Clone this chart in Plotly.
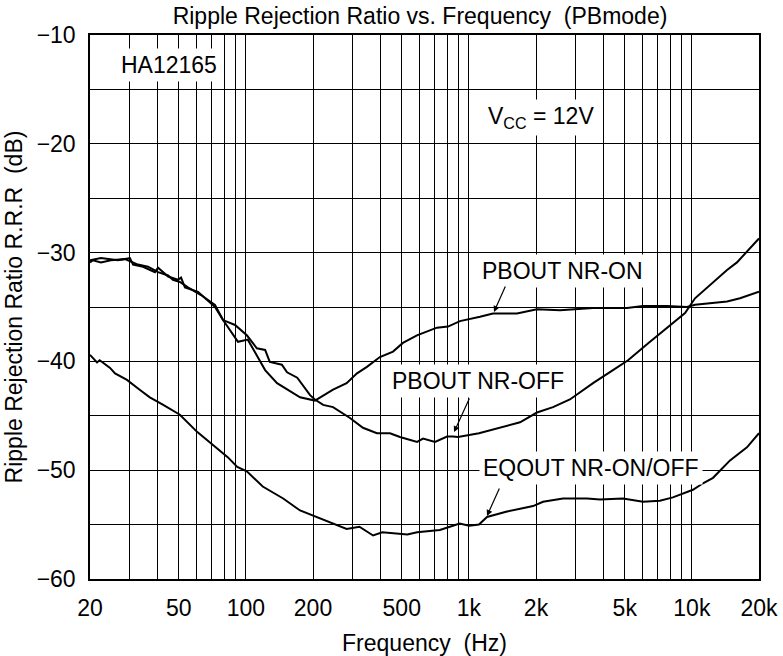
import math
import plotly.graph_objects as go

# ---- data ----
f_on = [20, 20.6, 22.4, 24.8, 28.7, 32.8, 36.4, 40.4, 44.8, 47.1, 50.6, 55, 62.9, 72.7, 79,
        92.2, 102, 113, 122, 138, 153, 175, 204, 246, 283, 315, 349, 399, 457, 506, 585, 719,
        806, 912, 1122, 1282, 1644, 2020, 2564, 3604, 5118, 6040, 7730, 9508, 10330, 14380,
        16440, 20000]
db_on = [-30.9, -30.7, -30.9, -30.7, -30.6, -31.1, -31.3, -31.8, -32.1, -32.5, -32.7, -33.2,
         -33.9, -34.8, -36.2, -38.2, -38.0, -39.6, -40.8, -42.0, -42.6, -43.3, -43.6, -42.6,
         -42.0, -41.1, -40.5, -39.6, -39.1, -38.3, -37.6, -36.9, -36.8, -36.3, -35.9, -35.6,
         -35.6, -35.2, -35.3, -35.1, -35.1, -34.9, -34.9, -35.0, -34.8, -34.5, -34.2, -33.6]

f_off = [20, 22.4, 26.7, 30.2, 31.2, 34.6, 39.1, 40.4, 44.8, 49.6, 51.2, 53.3, 61, 65.6, 72.7,
         79, 89.4, 101, 112, 122, 128, 145, 153, 170, 194, 204, 222, 246, 293, 335, 387, 443,
         491, 586, 623, 705, 798, 848, 894, 1110, 1379, 1696, 2020, 2384, 2838, 3604, 4428,
         5173, 6390, 8140, 9320, 10330, 12440, 14380, 15930, 17660, 19800, 20000]
db_off = [-30.7, -30.5, -30.7, -30.5, -31.1, -31.3, -31.8, -31.4, -32.2, -32.5, -32.3, -33.2,
          -33.6, -34.2, -35.0, -36.2, -36.65, -37.6, -38.8, -38.95, -40.05, -40.3, -41.0, -41.5,
          -43.1, -43.5, -44.0, -44.2, -45.2, -46.1, -46.6, -46.6, -46.95, -47.4, -47.1, -47.4,
          -46.9, -46.9, -46.95, -46.6, -46.1, -45.6, -44.7, -44.2, -43.5, -42.0, -40.8, -39.9,
          -38.3, -36.5, -35.55, -34.2, -32.7, -31.6, -30.9, -29.9, -28.8, -28.7]

f_eq = [20, 21.5, 22.1, 24.6, 25.9, 29.3, 33.4, 37.1, 42.6, 50.6, 60.6, 71.1, 82.9, 91.5, 101,
        119, 147, 175, 208, 246, 283, 323, 372, 409, 495, 530, 586, 741, 848, 909, 1003, 1110,
        1206, 1482, 1940, 2150, 2643, 3389, 3874, 4910, 6040, 7190, 8220, 10110, 11220, 12440,
        14830, 17660, 20000]
db_eq = [-39.4, -40.1, -39.9, -40.6, -41.1, -41.7, -42.6, -43.3, -44.0, -44.9, -46.5, -47.7,
         -48.8, -49.7, -50.1, -51.5, -52.6, -53.7, -54.3, -54.9, -55.4, -55.2, -56.0, -55.7,
         -55.8, -55.9, -55.7, -55.5, -55.1, -54.9, -55.1, -55.0, -54.3, -53.8, -53.3, -52.9,
         -52.6, -52.6, -52.7, -52.6, -52.9, -52.8, -52.5, -51.8, -51.2, -50.7, -49.1, -47.9,
         -46.6]

x_tickvals = [20, 50, 100, 200, 500, 1000, 2000, 5000, 10000, 20000]
x_ticktext = ["20", "50", "100", "200", "500", "1k", "2k", "5k", "10k", "20k"]
x_grid = [30, 40, 50, 60, 70, 80, 90, 100, 200, 300, 400, 500, 600, 700, 800, 900,
          1000, 2000, 3000, 4000, 5000, 6000, 7000, 8000, 9000, 10000]
y_tickvals = [-10, -20, -30, -40, -50, -60]
y_ticktext = ["\u221210", "\u221220", "\u221230", "\u221240", "\u221250", "\u221260"]
y_grid = [-15, -25, -35, -45, -55]

FONT = "Liberation Sans, Arial, Helvetica, sans-serif"
FS = 23

fig = go.Figure()
for fx, fy, nm in [(f_on, db_on, "PBOUT NR-ON"), (f_off, db_off, "PBOUT NR-OFF"),
                   (f_eq, db_eq, "EQOUT NR-ON/OFF")]:
    fig.add_trace(go.Scatter(x=fx, y=fy, mode="lines", name=nm,
                             line=dict(color="black", width=2), showlegend=False))

L = math.log10
labels = [
    ("HA12165", 45, -12.76),
    ("V<sub>CC</sub> = 12V", 2100, -17.6),
    ("PBOUT NR-ON", 2616, -31.7),
    ("PBOUT NR-OFF", 1099, -41.8),
    ("EQOUT NR-ON/OFF", 3528, -49.8),
]
ann = []
for t, fx, fy in labels:
    ann.append(dict(text=t, x=L(fx), y=fy, xref="x", yref="y", showarrow=False,
                    bgcolor="white", borderpad=3,
                    font=dict(family=FONT, size=FS, color="black")))
arrows = [(1296, -35.46, 12, -27), (858, -46.5, 16, -35), (1206, -54.2, 13, -29)]
for fx, fy, axp, ayp in arrows:
    ann.append(dict(text="", x=L(fx), y=fy, xref="x", yref="y", showarrow=True,
                    ax=axp, ay=ayp, arrowhead=2, arrowsize=1, arrowwidth=1.2,
                    arrowcolor="black"))

fig.update_layout(
    width=783, height=656,
    margin=dict(l=90, r=24, t=35, b=77),
    paper_bgcolor="white", plot_bgcolor="white",
    font=dict(family=FONT, size=FS, color="black"),
    title=dict(text="Ripple Rejection Ratio vs. Frequency\u00a0 (PBmode)",
               x=420 / 783, xanchor="center", y=1 - 16 / 656, yanchor="middle",
               font=dict(family=FONT, size=FS, color="black")),
    annotations=ann,
)
fig.update_xaxes(
    type="log", range=[L(20), L(20000)], automargin=False,
    tickvals=x_tickvals, ticktext=x_ticktext, ticks="", showgrid=False,
    ticklabelstandoff=8,
    minor=dict(tickvals=x_grid, showgrid=True, gridcolor="black", gridwidth=1, ticks=""),
    showline=True, mirror=True, linecolor="black", linewidth=1.5,
    zeroline=False,
    title=dict(text="Frequency\u00a0 (Hz)", standoff=40,
               font=dict(family=FONT, size=FS, color="black")),
)
fig.update_yaxes(
    range=[-60, -10], tickvals=y_tickvals, ticktext=y_ticktext, ticks="", automargin=False,
    showgrid=True, gridcolor="black", gridwidth=1,
    ticklabelstandoff=8,
    minor=dict(tickvals=y_grid, showgrid=True, gridcolor="black", gridwidth=1, ticks=""),
    showline=True, mirror=True, linecolor="black", linewidth=1.5,
    zeroline=False,
    title=dict(text="Ripple Rejection Ratio R.R.R\u00a0 (dB)", standoff=8,
               font=dict(family=FONT, size=FS, color="black")),
)

fig.write_html("out.html", config={"displayModeBar": False},
               post_script="document.body.style.margin='0';")
